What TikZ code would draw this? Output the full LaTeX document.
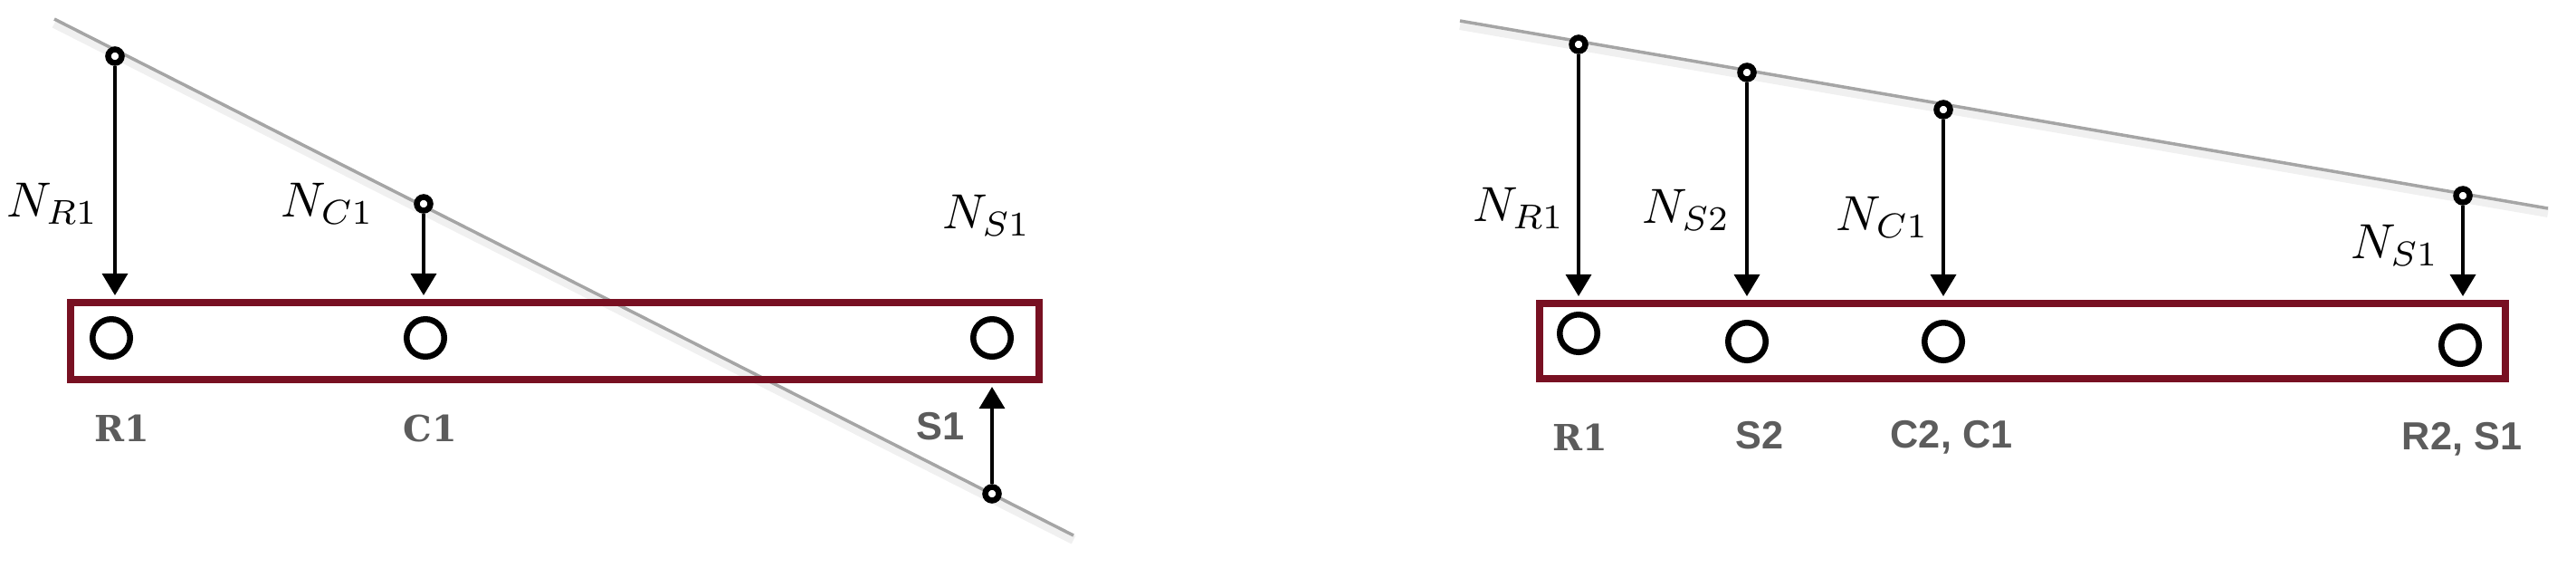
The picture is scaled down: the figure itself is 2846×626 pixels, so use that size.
\documentclass[tikz,border=0pt]{standalone}
\usepackage{amsmath}
\usepackage{fontspec}
\usetikzlibrary{arrows.meta}
\usetikzlibrary{calc}
\newfontfamily\tagsans{Liberation Sans}
\newfontfamily\tagserif{DejaVu Serif}
\definecolor{beamred}{RGB}{120,16,34}
\definecolor{rodgray}{RGB}{165,165,165}
\definecolor{taggray}{RGB}{92,92,92}
\tikzset{
  beam/.style={draw=beamred, line width=0.08cm, inner sep=0pt, minimum height=0.85cm},
  hinge/.style={draw, circle, line width=0.065cm, inner sep=0pt, minimum size=0.415cm},
  pin/.style={draw, circle, fill=white, line width=0.065cm, inner sep=0pt, minimum size=0.15cm},
  force/.style={-{Triangle[length=0.24cm,width=0.28cm]}, line width=0.035cm, shorten >=0.04cm},
  rod/.style={rodgray, line width=0.035cm},
  rodshadow/.style={black, line width=0.1cm, opacity=0.06},
  tag/.style={text=taggray, font=\fontsize{12.3}{14}\selectfont\bfseries\tagsans},
  stag/.style={text=taggray, font=\fontsize{11.3}{14}\selectfont\bfseries\tagserif},
  load/.style={scale=1.55, transform shape}
}
\begin{document}
\begin{tikzpicture}[x=0.01cm, y=-0.01cm]
        \useasboundingbox (0,0) rectangle (2846,626);
        % left: inclined rod
        \coordinate (la) at (60,21);
        \coordinate (lb) at (1186,591);
        \draw[rodshadow] ([yshift=-0.05cm]la) -- ([yshift=-0.05cm]lb);
        \draw[rod] (la) -- (lb);
        \node[beam, minimum width=10.70cm] (beamL) at (613,376.5) {};
        \node[hinge] (hR1) at (123,373) {};
        \node[hinge] (hC1) at (470,373) {};
        \node[hinge] (hS1) at (1096,373) {};
        \node[pin] (pR1) at (127,62) {};
        \node[pin] (pC1) at (468,225) {};
        \node[pin] (pS1) at (1096,545) {};
        \node[load] (nR1) at (58,225) {$N_{R1}$};
        \node[load] (nC1) at (362,225) {$N_{C1}$};
        \node[load] (nS1) at (1090,238) {$N_{S1}$};
        \node[stag] (tR1) at (135,473) {R1};
        \node[stag] (tC1) at (475,473) {C1};
        \node[tag] (tS1) at (1039,471) {S1};
        \draw[force] (pR1) to (pR1 |- beamL.north);
        \draw[force] (pC1) to (pC1 |- beamL.north);
        \draw[force] (pS1) to (pS1 |- beamL.south);
        % right: flatter rod
        \coordinate (ra) at (1613,23);
        \coordinate (rb) at (2815,230);
        \draw[rodshadow] ([yshift=-0.05cm]ra) -- ([yshift=-0.05cm]rb);
        \draw[rod] (ra) -- (rb);
        \node[beam, minimum width=10.67cm, minimum height=0.83cm] (beamR) at (2234.5,376.5) {};
        \node[hinge] (hR1b) at (1744,368) {};
        \node[hinge] (hS2b) at (1930,377) {};
        \node[hinge] (hC1b) at (2147,377) {};
        \node[hinge] (hS1b) at (2718,381) {};
        \node[pin] (pR1b) at (1744,49) {};
        \node[pin] (pS2b) at (1930,80) {};
        \node[pin] (pC1b) at (2147,121) {};
        \node[pin] (pS1b) at (2721,216) {};
        \node[load] (nR1b) at (1678,230) {$N_{R1}$};
        \node[load] (nS2b) at (1863,232) {$N_{S2}$};
        \node[load] (nC1b) at (2080,240) {$N_{C1}$};
        \node[load] (nS1b) at (2646,271) {$N_{S1}$};
        \node[stag] (tR1b) at (1746,483) {R1};
        \node[tag] (tS2b) at (1944,481) {S2};
        \node[tag] (tC1b) at (2156,483) {C2, C1};
        \node[tag] (tS1b) at (2720,485) {R2, S1};
        \draw[force] (pR1b) to (pR1b |- beamR.north);
        \draw[force] (pS2b) to (pS2b |- beamR.north);
        \draw[force] (pC1b) to (pC1b |- beamR.north);
        \draw[force] (pS1b) to (pS1b |- beamR.north);
      \end{tikzpicture}
\end{document}
